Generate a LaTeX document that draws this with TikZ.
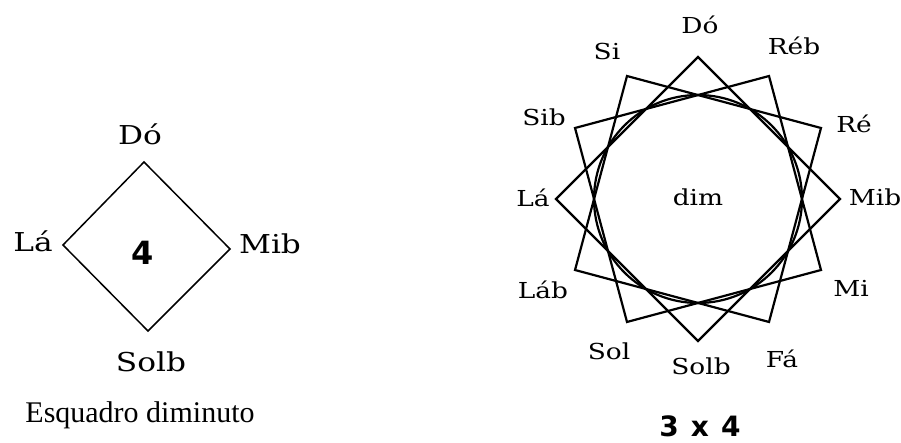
\documentclass[tikz,border=0pt]{standalone}
\usepackage{fontspec}
\setmainfont{Liberation Serif}
\newfontfamily\labfont[FakeStretch=1.2]{DejaVu Serif}
\newfontfamily\numfont{DejaVu Sans}
\begin{document}
\begin{tikzpicture}[x=1pt,y=-1pt,
  lableft/.style={font=\labfont\fontsize{26}{30}\selectfont, inner sep=0pt},
  labright/.style={font=\labfont\fontsize{22}{26}\selectfont, inner sep=0pt},
  numstyle/.style={font=\numfont\bfseries\fontsize{32}{36}\selectfont, inner sep=0pt},
  prodstyle/.style={font=\numfont\bfseries\fontsize{28}{32}\selectfont, inner sep=0pt},
  captext/.style={font=\fontsize{30}{34}\selectfont, inner sep=0pt},
  thinline/.style={line width=1.5pt, line join=miter},
  sqline/.style={line width=2.2pt, line join=miter}]
\useasboundingbox (0,0) rectangle (901,443);
% left diamond
\coordinate (dt) at (144,162);
\coordinate (dr) at (230,249);
\coordinate (db) at (148,331);
\coordinate (dl) at (63,245);
\draw[thinline] (dt) -- (dr) -- (db) -- (dl) -- cycle;
\node[lableft] (ldo) at (140,134) {Dó};
\node[lableft] (lla) at (33,241) {Lá};
\node[lableft] (lmib) at (270,244) {Mib};
\node[lableft] (lsolb) at (151,362) {Solb};
\node[numstyle] (four) at (143,253) {4};
\node[captext] (cap) at (140,415) {Esquadro diminuto};
% right figure
\coordinate (C) at (698,199);
\begin{scope}[shift={(C)}]
  \foreach \r in {0,30,60}{
    \draw[sqline] (90+\r:142) -- (180+\r:142) -- (270+\r:142) -- (\r:142) -- cycle;
  }
  \draw[sqline] (0,0) circle[radius=104];
\end{scope}
\node[labright] (rdo) at (700,25) {Dó};
\node[labright] (rreb) at (794,46) {Réb};
\node[labright] (rre) at (854,124) {Ré};
\node[labright] (rmib) at (875,197) {Mib};
\node[labright] (rmi) at (851,288) {Mi};
\node[labright] (rfa) at (782,359) {Fá};
\node[labright] (rsolb) at (701,366) {Solb};
\node[labright] (rsol) at (609,351) {Sol};
\node[labright] (rlab) at (543,290) {Láb};
\node[labright] (rla) at (533,198) {Lá};
\node[labright] (rsib) at (544,117) {Sib};
\node[labright] (rsi) at (607,51) {Si};
\node[labright] (dim) at (698,197) {dim};
\node[prodstyle, anchor=base] (prod) at (700,436) {3\hspace{12pt}x\hspace{12pt}4};
\end{tikzpicture}
\end{document}
